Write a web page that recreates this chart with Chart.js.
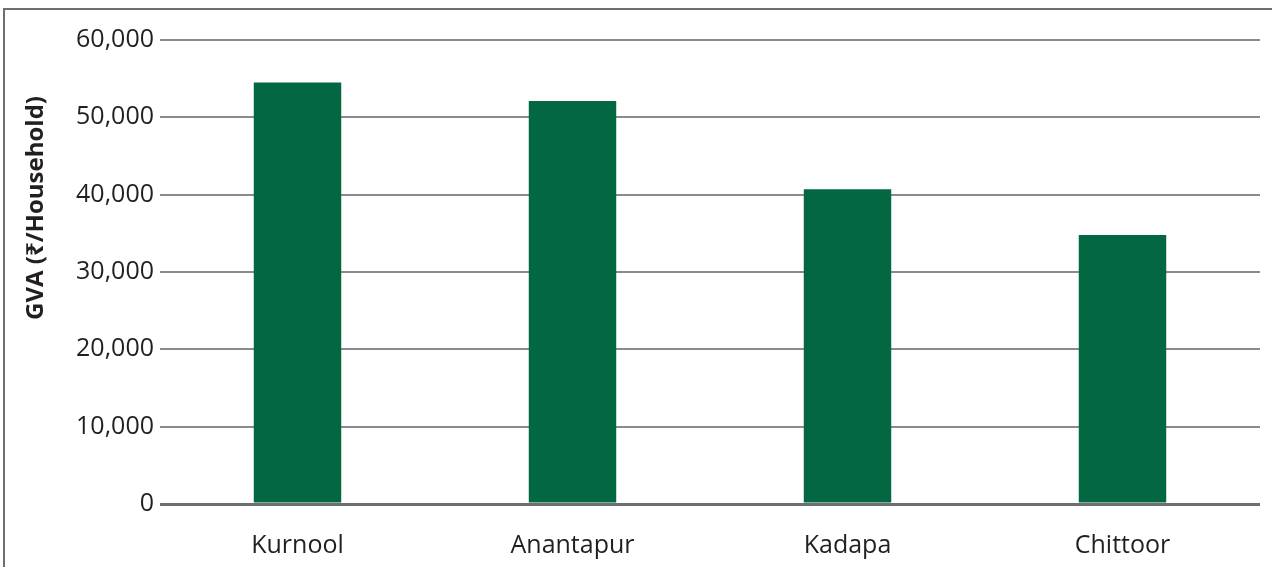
<!DOCTYPE html>
<html lang="en">
<head>
    <meta charset="UTF-8">
    <title>GVA per Household</title>
    <script src="https://cdn.jsdelivr.net/npm/chart.js"></script>
    <style>
        body {
            margin: 0;
            padding: 0;
            background: #ffffff;
        }
        #wrap {
            width: 1272px;
            height: 567px;
        }
    </style>
</head>
<body>
    <div id="wrap">
        <canvas id="gvaChart" width="1272" height="567"></canvas>
    </div>

    <script>
        // Districts and GVA per household (Rs)
        const districts = ['Kurnool', 'Anantapur', 'Kadapa', 'Chittoor'];
        const gvaValues = [54500, 52100, 40700, 34800];
        const yTicks = [0, 10000, 20000, 30000, 40000, 50000, 60000];
        const yTitle = 'GVA (\u20B9/Household)';

        const barGreen = '#036841';
        const lineGrey = '#8a8a8c';
        const darkGrey = '#6d6e71';

        // Outer frame (top and left edges) and rotated axis title
        const framePlugin = {
            id: 'frame',
            beforeDraw(chart) {
                const c = chart.ctx;
                c.save();
                c.strokeStyle = darkGrey;
                c.lineWidth = 2;
                c.beginPath();
                c.moveTo(4, chart.height);
                c.lineTo(4, 9);
                c.lineTo(chart.width, 9);
                c.stroke();
                c.restore();
            },
            afterDraw(chart) {
                const c = chart.ctx;
                c.save();
                c.translate(36, 208);
                c.rotate(-Math.PI / 2);
                c.fillStyle = '#231f20';
                c.font = 'bold 24px "Open Sans", "Noto Sans", "DejaVu Sans", sans-serif';
                c.textAlign = 'center';
                c.textBaseline = 'middle';
                c.fillText(yTitle, 0, 0);
                c.restore();
            }
        };

        const ctx = document.getElementById('gvaChart').getContext('2d');

        const chart = new Chart(ctx, {
            type: 'bar',
            data: {
                labels: districts,
                datasets: [{
                    data: gvaValues,
                    backgroundColor: barGreen,
                    borderWidth: 0,
                    barPercentage: 0.318,
                    categoryPercentage: 1
                }]
            },
            options: {
                responsive: false,
                animation: false,
                layout: {
                    padding: { left: 0, right: 12, top: 40, bottom: 0 }
                },
                plugins: {
                    legend: { display: false },
                    tooltip: { enabled: false }
                },
                scales: {
                    x: {
                        grid: { display: false },
                        border: { display: false },
                        ticks: {
                            color: '#231f20',
                            padding: 19,
                            font: { family: '"Open Sans", sans-serif', size: 25 }
                        },
                        afterFit(scale) { scale.height = 63; }
                    },
                    y: {
                        min: 0,
                        max: 60000,
                        afterBuildTicks(scale) {
                            scale.ticks = yTicks.map(v => ({ value: v }));
                        },
                        grid: {
                            drawTicks: false,
                            color: c => c.tick && c.tick.value === 0 ? darkGrey : lineGrey,
                            lineWidth: c => c.tick && c.tick.value === 0 ? 3 : 2
                        },
                        border: { display: false },
                        ticks: {
                            color: '#231f20',
                            padding: 6,
                            font: { family: '"Open Sans", sans-serif', size: 25 },
                            callback: v => v.toLocaleString('en-US')
                        },
                        afterFit(scale) { scale.width = 160; }
                    }
                }
            },
            plugins: [framePlugin]
        });
    </script>
</body>
</html>
